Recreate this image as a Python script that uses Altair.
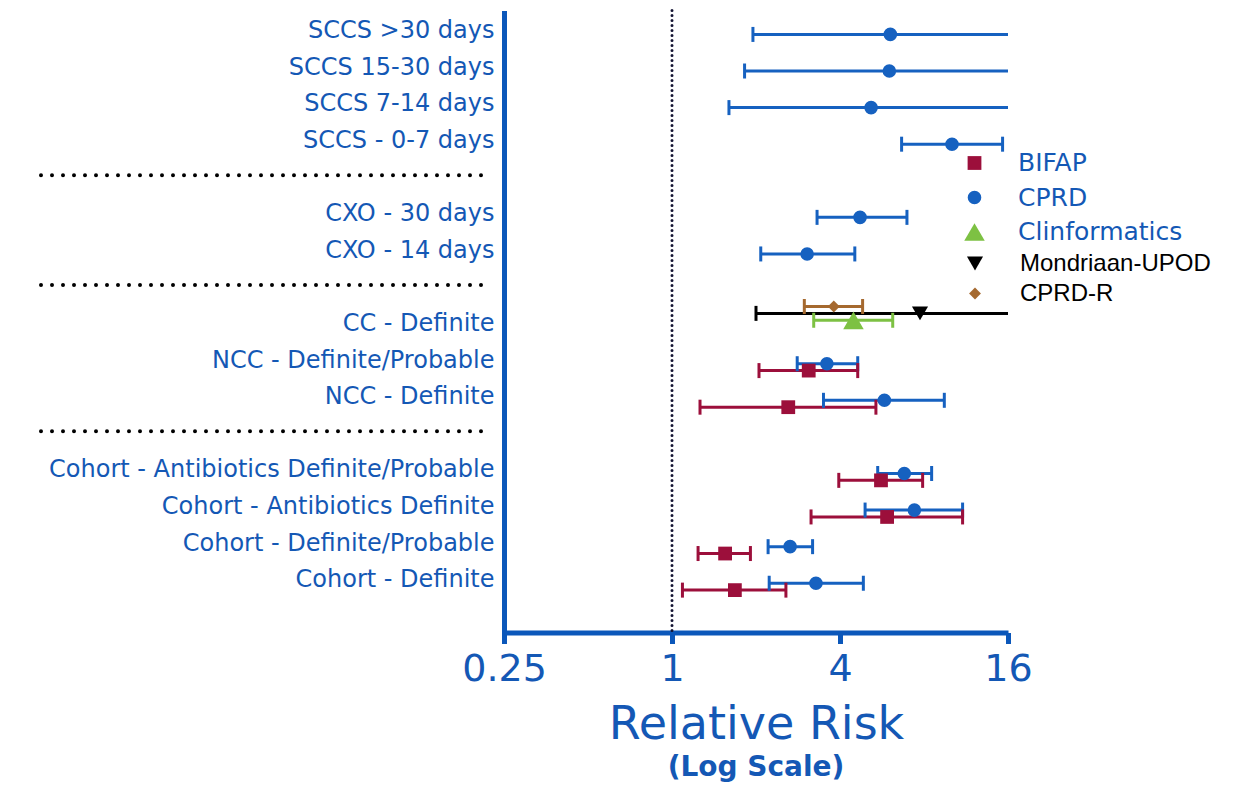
import altair as alt
import pandas as pd

# ---- data ----
rows = [
    "SCCS >30 days", "SCCS 15-30 days", "SCCS 7-14 days", "SCCS - 0-7 days",
    "sep1",
    "CXO - 30 days", "CXO - 14 days",
    "sep2",
    "CC - Definite", "NCC - Definite/Probable", "NCC - Definite",
    "sep3",
    "Cohort - Antibiotics Definite/Probable", "Cohort - Antibiotics Definite",
    "Cohort - Definite/Probable", "Cohort - Definite",
    "pad",
]
separators = ["sep1", "sep2", "sep3"]

est_analysis = [
    "SCCS >30 days", "SCCS 15-30 days", "SCCS 7-14 days", "SCCS - 0-7 days",
    "CXO - 30 days", "CXO - 14 days",
    "CC - Definite", "CC - Definite", "CC - Definite",
    "NCC - Definite/Probable", "NCC - Definite/Probable",
    "NCC - Definite", "NCC - Definite",
    "Cohort - Antibiotics Definite/Probable", "Cohort - Antibiotics Definite/Probable",
    "Cohort - Antibiotics Definite", "Cohort - Antibiotics Definite",
    "Cohort - Definite/Probable", "Cohort - Definite/Probable",
    "Cohort - Definite", "Cohort - Definite",
]
est_source = [
    "CPRD", "CPRD", "CPRD", "CPRD",
    "CPRD", "CPRD",
    "Mondriaan-UPOD", "Clinformatics", "CPRD-R",
    "CPRD", "BIFAP",
    "CPRD", "BIFAP",
    "CPRD", "BIFAP",
    "CPRD", "BIFAP",
    "CPRD", "BIFAP",
    "CPRD", "BIFAP",
]
est_rr = [6.06, 6.01, 5.17, 10.08,
          4.72, 3.05,
          7.74, 4.47, 3.80,
          3.59, 3.09,
          5.77, 2.61,
          6.80, 5.61,
          7.39, 5.90,
          2.65, 1.55,
          3.28, 1.68]
est_lo = [1.95, 1.82, 1.60, 6.65,
          3.31, 2.08,
          2.00, 3.22, 2.98,
          2.81, 2.05,
          3.49, 1.26,
          5.46, 3.96,
          4.92, 3.15,
          2.21, 1.24,
          2.23, 1.09]
est_hi = [16, 16, 16, 15.3,
          6.95, 4.52,
          16, 6.18, 4.82,
          4.63, 4.63,
          9.46, 5.38,
          8.52, 7.91,
          11.0, 11.0,
          3.19, 1.91,
          4.85, 2.56]

sources = ["BIFAP", "CPRD", "Clinformatics", "Mondriaan-UPOD", "CPRD-R"]
sources_a = ["BIFAP", "CPRD", "Clinformatics"]
sources_b = ["Mondriaan-UPOD", "CPRD-R"]
x_ticks = [0.25, 1, 4, 16]
reference_value = [1]

df = pd.DataFrame({"analysis": est_analysis, "source": est_source,
                   "rr": est_rr, "lo": est_lo, "hi": est_hi})
sep_df = pd.DataFrame({"analysis": separators})
ref_df = pd.DataFrame({"rr": reference_value})

# ---- styles ----
BLUE = "#1458B5"
AXIS_BLUE = "#0B57BA"
colors = ["#9C0F3B", "#1661C0", "#7DC143", "#000000", "#A5692F"]
color_of = dict(zip(sources, colors))
shapes = ["square", "circle", "triangle-up", "triangle-down", "diamond"]
shape_of = dict(zip(sources, shapes))
sizes = [190, 185, 420, 260, 140]
size_of = dict(zip(sources, sizes))
offset_order = ["CPRD-R", "Mondriaan-UPOD", "Clinformatics", "CPRD", "BIFAP"]

xscale = alt.Scale(type="log", base=2, domain=[0.25, 16])
yscale = alt.Scale(domain=rows, paddingInner=0, paddingOuter=0)

y_enc = alt.Y(
    "analysis:N", scale=yscale,
    axis=alt.Axis(
        title=None, ticks=False, tickSize=0, grid=False,
        domainColor=AXIS_BLUE, domainWidth=5,
        labelFont="DejaVu Sans", labelFontSize=24, labelColor=BLUE,
        labelPadding=10, labelLimit=800, labelOffset=2.5,
        labelExpr="indexof(datum.label, 'sep') == 0 || datum.label == 'pad' ? '' : datum.label",
    ),
)
yoff = alt.YOffset("source:N",
                   scale=alt.Scale(type="point", domain=offset_order,
                                   range=[3.3, 30.8], padding=0))

x_axis = alt.Axis(
    values=x_ticks, labelExpr="datum.value + ''", title="Relative Risk",
    grid=False, domainColor=AXIS_BLUE, domainWidth=5,
    tickColor=AXIS_BLUE, tickWidth=5, tickSize=11,
    labelFont="DejaVu Sans", labelFontSize=38, labelColor=BLUE, labelPadding=7,
    labelFlush=False,
    titleFont="DejaVu Sans", titleFontSize=46, titleFontWeight="normal",
    titleColor=BLUE, titlePadding=14,
)

stroke_scale = alt.Scale(domain=sources, range=colors)

ref_line = alt.Chart(ref_df).mark_rule(
    color="#141433", strokeWidth=3, strokeDash=[0, 5], strokeCap="round"
).encode(x=alt.X("rr:Q", scale=xscale, axis=x_axis))

sep_lines = alt.Chart(sep_df).mark_rule(
    color="black", strokeWidth=4, strokeDash=[0, 11], strokeCap="round"
).encode(y=y_enc, x=alt.value(-463), x2=alt.value(-16))

base = alt.Chart(df)

bars = base.mark_rule(strokeWidth=3).encode(
    x=alt.X("lo:Q", scale=xscale, axis=x_axis), x2="hi:Q", y=y_enc, yOffset=yoff,
    stroke=alt.Stroke("source:N", scale=stroke_scale, legend=None),
)
cap_lo = base.mark_tick(thickness=3, size=15, opacity=1).encode(
    x=alt.X("lo:Q", scale=xscale, axis=x_axis), y=y_enc, yOffset=yoff,
    fill=alt.Fill("source:N", scale=stroke_scale, legend=None),
)
cap_hi = base.transform_filter("datum.hi < 16").mark_tick(thickness=3, size=15, opacity=1).encode(
    x=alt.X("hi:Q", scale=xscale, axis=x_axis), y=y_enc, yOffset=yoff,
    fill=alt.Fill("source:N", scale=stroke_scale, legend=None),
)


def point_layer(group, legend):
    return base.transform_filter(
        alt.FieldOneOfPredicate(field="source", oneOf=group)
    ).mark_point(filled=True, opacity=1).encode(
        x=alt.X("rr:Q", scale=xscale, axis=x_axis), y=y_enc, yOffset=yoff,
        color=alt.Color("source:N", scale=alt.Scale(domain=group, range=[color_of[s] for s in group]),
                        legend=legend),
        shape=alt.Shape("source:N", scale=alt.Scale(domain=group, range=[shape_of[s] for s in group]),
                        legend=legend),
        size=alt.Size("source:N",
                      scale=alt.Scale(type="ordinal", domain=group, range=[size_of[s] for s in group]),
                      legend=None),
    )


legend_a = alt.Legend(
    title=None, orient="none", legendX=458, legendY=140, padding=0,
    symbolSize=200, symbolStrokeWidth=0, symbolOpacity=1,
    labelFont="DejaVu Sans", labelFontSize=25, labelColor=BLUE,
    labelOffset=31, rowPadding=8.5, labelLimit=400,
)
legend_b = alt.Legend(
    title=None, orient="none", legendX=459, legendY=241, padding=0,
    symbolSize=150, symbolStrokeWidth=0, symbolOpacity=1,
    labelFont="Liberation Sans", labelFontSize=24, labelColor="#000000",
    labelOffset=33, rowPadding=6, labelLimit=400,
)

points_a = point_layer(sources_a, legend_a)
points_b = point_layer(sources_b, legend_b)

chart = alt.layer(ref_line, sep_lines, bars, cap_lo, cap_hi, points_a, points_b).resolve_scale(
    color="independent", shape="independent", size="independent"
).properties(
    width=504, height=622,
    autosize=alt.AutoSizeParams(type="none"),
    padding={"left": 496, "top": 2.5, "right": 215, "bottom": 152},
    background="white",
    title=alt.TitleParams("(Log Scale)", orient="bottom", anchor="middle",
                          font="DejaVu Sans", fontSize=28, fontWeight="bold",
                          color=BLUE, offset=6),
).configure_view(stroke=None)

chart.save("out.html", embed_options={"renderer": "svg", "actions": False})
